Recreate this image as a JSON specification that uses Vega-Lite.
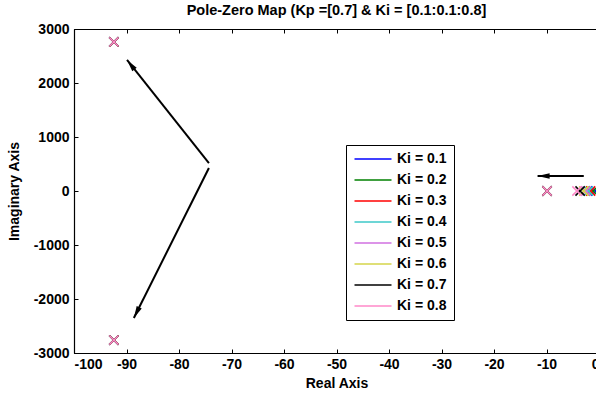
{
  "$schema": "https://vega.github.io/schema/vega-lite/v6.json",
  "width": 525,
  "height": 324,
  "autosize": "none",
  "padding": {"left": 74, "top": 29, "right": 0, "bottom": 43},
  "title": {"text": "Pole-Zero Map (Kp =[0.7] & Ki = [0.1:0.1:0.8]", "font": "Liberation Sans", "fontSize": 14.5, "fontWeight": "bold", "color": "black", "offset": 4},
  "config": {
    "view": {"stroke": "black", "strokeWidth": 1},
    "axis": {"domainColor": "black", "domainWidth": 1.2, "tickColor": "black", "tickSize": 4, "labelFont": "Liberation Sans", "labelFontSize": 14, "labelFontWeight": "bold", "labelColor": "black", "titleFont": "Liberation Sans", "titleFontSize": 14, "titleFontWeight": "bold", "titleColor": "black", "grid": false},
    "legend": {"orient": "none", "legendX": 272, "legendY": 116, "strokeColor": "black", "fillColor": "white", "padding": 7, "symbolType": "M-3,0H3", "symbolSize": 152, "symbolOffset": 13, "symbolStrokeWidth": 1.5, "labelFont": "Liberation Sans", "labelFontSize": 14, "labelFontWeight": "bold", "labelColor": "black", "rowPadding": 7, "labelOffset": 17}
  },
  "datasets": {
    "poles": [
      {"Ki": "Ki = 0.1", "re": -92.4, "im": 2760}, {"Ki": "Ki = 0.1", "re": -92.4, "im": -2760}, {"Ki": "Ki = 0.1", "re": -9.9, "im": 0}, {"Ki": "Ki = 0.1", "re": -0.6, "im": 0},
      {"Ki": "Ki = 0.2", "re": -92.4, "im": 2760}, {"Ki": "Ki = 0.2", "re": -92.4, "im": -2760}, {"Ki": "Ki = 0.2", "re": -9.9, "im": 0}, {"Ki": "Ki = 0.2", "re": -1.1, "im": 0},
      {"Ki": "Ki = 0.3", "re": -92.4, "im": 2760}, {"Ki": "Ki = 0.3", "re": -92.4, "im": -2760}, {"Ki": "Ki = 0.3", "re": -9.9, "im": 0}, {"Ki": "Ki = 0.3", "re": -1.6, "im": 0},
      {"Ki": "Ki = 0.4", "re": -92.4, "im": 2760}, {"Ki": "Ki = 0.4", "re": -92.4, "im": -2760}, {"Ki": "Ki = 0.4", "re": -9.9, "im": 0}, {"Ki": "Ki = 0.4", "re": -2.0, "im": 0},
      {"Ki": "Ki = 0.5", "re": -92.4, "im": 2760}, {"Ki": "Ki = 0.5", "re": -92.4, "im": -2760}, {"Ki": "Ki = 0.5", "re": -9.9, "im": 0}, {"Ki": "Ki = 0.5", "re": -2.5, "im": 0},
      {"Ki": "Ki = 0.6", "re": -92.4, "im": 2760}, {"Ki": "Ki = 0.6", "re": -92.4, "im": -2760}, {"Ki": "Ki = 0.6", "re": -9.9, "im": 0}, {"Ki": "Ki = 0.6", "re": -2.9, "im": 0},
      {"Ki": "Ki = 0.7", "re": -92.4, "im": 2760}, {"Ki": "Ki = 0.7", "re": -92.4, "im": -2760}, {"Ki": "Ki = 0.7", "re": -9.9, "im": 0}, {"Ki": "Ki = 0.7", "re": -3.6, "im": 0},
      {"Ki": "Ki = 0.8", "re": -92.4, "im": 2760}, {"Ki": "Ki = 0.8", "re": -92.4, "im": -2760}, {"Ki": "Ki = 0.8", "re": -9.9, "im": 0}, {"Ki": "Ki = 0.8", "re": -4.2, "im": 0}
    ],
    "arrows": [
      {"id": "up", "x": -74.3, "y": 518, "x2": -89.9, "y2": 2426},
      {"id": "down", "x": -74.3, "y": 426, "x2": -88.6, "y2": -2352},
      {"id": "left", "x": -2.9, "y": 278, "x2": -11.7, "y2": 278}
    ]
  },
  "resolve": {"axis": {"x": "independent", "y": "independent"}},
  "layer": [
    {
      "mark": {"type": "rule", "color": "#b4b4b4", "strokeWidth": 1},
      "encoding": {"y": {"datum": 0, "type": "quantitative", "axis": null}}
    },
    {
      "data": {"name": "poles"},
      "mark": {"type": "point", "opacity": 0},
      "encoding": {
        "x": {"field": "re", "type": "quantitative", "axis": {"orient": "top", "offset": -324, "values": [-100, -90, -80, -70, -60, -50, -40, -30, -20, -10, 0], "labels": false, "domain": false, "title": null}},
        "y": {"field": "im", "type": "quantitative", "axis": {"orient": "right", "offset": -525, "values": [-3000, -2000, -1000, 0, 1000, 2000, 3000], "labels": false, "domain": false, "title": null}}
      }
    },
    {
      "data": {"name": "poles"},
      "mark": {"type": "point", "opacity": 0},
      "encoding": {
        "x": {"field": "re", "type": "quantitative", "axis": {"orient": "bottom", "offset": -324, "values": [-100, -90, -80, -70, -60, -50, -40, -30, -20, -10, 0], "labels": false, "domain": false, "title": null}},
        "y": {"field": "im", "type": "quantitative", "axis": null}
      }
    },
    {
      "data": {"name": "poles"},
      "mark": {"type": "point", "shape": "M-1,-1L1,1M-1,1L1,-1", "filled": false, "strokeWidth": 1.5, "size": 85, "opacity": 1},
      "encoding": {
        "x": {"field": "re", "type": "quantitative", "scale": {"domain": [-100, 0], "nice": false, "zero": false}, "axis": {"values": [-100, -90, -80, -70, -60, -50, -40, -30, -20, -10, 0], "labelExpr": "'' + datum.value", "ticks": false, "title": "Real Axis", "labelPadding": 4, "titlePadding": 5}},
        "y": {"field": "im", "type": "quantitative", "scale": {"domain": [-3000, 3000], "nice": false}, "axis": {"values": [-3000, -2000, -1000, 0, 1000, 2000, 3000], "labelExpr": "'' + datum.value", "ticks": false, "title": "Imaginary Axis", "labelPadding": 5, "titlePadding": 12}},
        "color": {"field": "Ki", "type": "nominal", "scale": {"domain": ["Ki = 0.1", "Ki = 0.2", "Ki = 0.3", "Ki = 0.4", "Ki = 0.5", "Ki = 0.6", "Ki = 0.7", "Ki = 0.8"], "range": ["#0000ff", "#008000", "#ff0000", "#3cc8c8", "#d070e0", "#d4d44a", "#000000", "#ff88c8"]}, "legend": {"title": null}}
      }
    },
    {
      "data": {"name": "arrows"},
      "mark": {"type": "rule", "color": "black", "strokeWidth": 2},
      "encoding": {
        "x": {"field": "x", "type": "quantitative", "axis": null},
        "y": {"field": "y", "type": "quantitative", "axis": null},
        "x2": {"field": "x2"},
        "y2": {"field": "y2"}
      }
    },
    {
      "data": {"name": "arrows"},
      "transform": [{"filter": "datum.id === 'up'"}],
      "mark": {"type": "point", "shape": "M0,0L-0.4,1.7L0.4,1.7Z", "filled": true, "color": "black", "size": 200, "angle": 321.5, "opacity": 1},
      "encoding": {
        "x": {"field": "x2", "type": "quantitative", "axis": null},
        "y": {"field": "y2", "type": "quantitative", "axis": null}
      }
    },
    {
      "data": {"name": "arrows"},
      "transform": [{"filter": "datum.id === 'down'"}],
      "mark": {"type": "point", "shape": "M0,0L-0.4,1.7L0.4,1.7Z", "filled": true, "color": "black", "size": 200, "angle": 206.6, "opacity": 1},
      "encoding": {
        "x": {"field": "x2", "type": "quantitative", "axis": null},
        "y": {"field": "y2", "type": "quantitative", "axis": null}
      }
    },
    {
      "data": {"name": "arrows"},
      "transform": [{"filter": "datum.id === 'left'"}],
      "mark": {"type": "point", "shape": "M0,0L-0.4,1.7L0.4,1.7Z", "filled": true, "color": "black", "size": 200, "angle": 270, "opacity": 1},
      "encoding": {
        "x": {"field": "x2", "type": "quantitative", "axis": null},
        "y": {"field": "y2", "type": "quantitative", "axis": null}
      }
    }
  ]
}
